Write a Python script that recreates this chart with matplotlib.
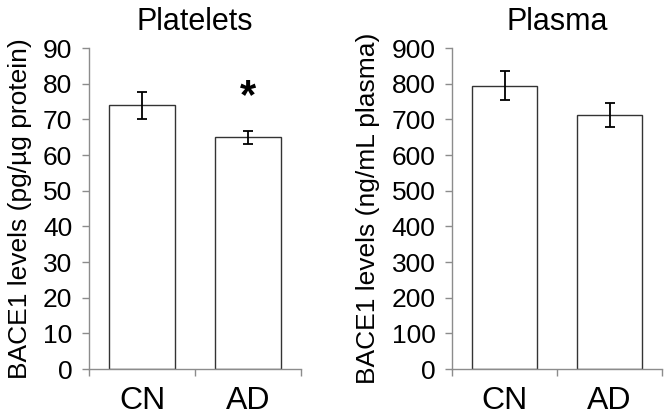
import matplotlib
matplotlib.use("Agg")
import matplotlib.pyplot as plt
from matplotlib.ticker import FixedLocator

plt.rcParams['font.family'] = ['Liberation Sans', 'DejaVu Sans']

categories = ["CN", "AD"]
platelet_means = [73.9, 65.0]
platelet_errs = [3.8, 1.8]
plasma_means = [794, 712]
plasma_errs = [41, 33]
platelet_ticks = [0, 10, 20, 30, 40, 50, 60, 70, 80, 90]
plasma_ticks = [0, 100, 200, 300, 400, 500, 600, 700, 800, 900]

fig = plt.figure(figsize=(6.67, 4.15), dpi=100)
ax1 = fig.add_axes([0.1334, 0.1108, 0.318, 0.7735])
ax2 = fig.add_axes([0.678, 0.1108, 0.3144, 0.7735])

spine_col = "#8c8c8c"

def style(ax, means, errs, ticks, title, ylabel):
    x = list(range(len(categories)))
    ax.bar(x, means, width=0.62, color="white", edgecolor="#333333", linewidth=1.0, zorder=2)
    ax.errorbar(x, means, yerr=errs, fmt="none", ecolor="black", elinewidth=1.3,
                capsize=3.3, capthick=1.3, zorder=3)
    ax.set_xlim(-0.5, len(categories) - 0.5)
    ax.set_ylim(ticks[0], ticks[-1])
    ax.set_yticks(ticks)
    ax.set_xticks(x)
    ax.set_xticklabels(categories, fontsize=23)
    ax.xaxis.set_minor_locator(FixedLocator([-0.5, 0.5, 1.5]))
    ax.tick_params(axis="x", which="major", length=0, pad=12)
    ax.tick_params(axis="x", which="minor", length=5, color=spine_col, width=1)
    ax.tick_params(axis="y", length=5, color=spine_col, width=1, labelsize=19, pad=7)
    for s in ["top", "right"]:
        ax.spines[s].set_visible(False)
    for s in ["left", "bottom"]:
        ax.spines[s].set_color(spine_col)
        ax.spines[s].set_linewidth(1)
    ax.set_title(title, fontsize=22, pad=13)
    ax.set_ylabel(ylabel, fontsize=19, labelpad=8)

style(ax1, platelet_means, platelet_errs, platelet_ticks, "Platelets",
      "BACE1 levels (pg/\u00b5g protein)")
style(ax2, plasma_means, plasma_errs, plasma_ticks, "Plasma",
      "BACE1 levels (ng/mL plasma)")

ax1.text(1, platelet_means[1] + platelet_errs[1] + 9.5, "*", ha="center", va="center",
         fontsize=30, fontweight="bold")

fig.savefig("out.png", dpi=100)
